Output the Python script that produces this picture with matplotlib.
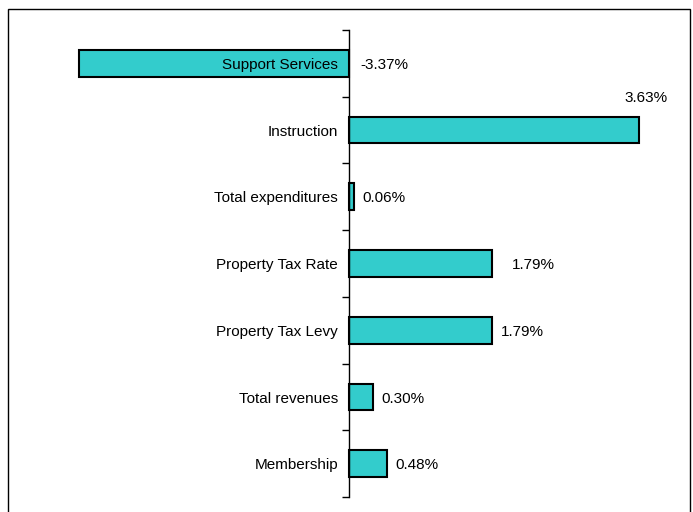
import numpy as np
import matplotlib.pyplot as plt
from matplotlib.patches import Rectangle

plt.rcParams['font.family'] = ['Liberation Sans', 'DejaVu Sans']

categories = ['Support Services', 'Instruction', 'Total expenditures',
              'Property Tax Rate', 'Property Tax Levy', 'Total revenues',
              'Membership']
changes = [-3.37, 3.63, 0.06, 1.79, 1.79, 0.30, 0.48]

W, H = 693, 512
fig = plt.figure(figsize=(W / 100, H / 100), dpi=100)

# axes placed in pixel terms: zero line at x=349, category band 30..497
px_per_unit = 80.0
left_px, right_px = 30, 680
zero_px = 349
ax = fig.add_axes([left_px / W, 1 - 497 / H, (right_px - left_px) / W, (497 - 30) / H])
ax.set_xlim(-(zero_px - left_px) / px_per_unit, (right_px - zero_px) / px_per_unit)

n = len(categories)
y = np.arange(n)
ax.barh(y, changes, height=0.4, color='#33CCCC', edgecolor='black', linewidth=1.5, zorder=2)
ax.set_ylim(n - 0.5, -0.5)

for s in ['top', 'right', 'bottom']:
    ax.spines[s].set_visible(False)
ax.spines['left'].set_position(('data', 0))
ax.spines['left'].set_linewidth(1.0)
ax.set_xticks([])
ax.set_yticks(np.arange(n + 1) - 0.5)
ax.set_yticklabels([])
ax.tick_params(axis='y', length=5, width=1, direction='out')

fs = 11
dy = -1.2
for i, (cat, v) in enumerate(zip(categories, changes)):
    ax.annotate(cat, (0, i), xytext=(-8, dy), textcoords='offset points',
                ha='right', va='center', fontsize=fs, zorder=3)
    if cat == 'Instruction':
        ax.annotate(f'{v:.2f}%', (v, i), xytext=(-11, 24 + dy), textcoords='offset points',
                    ha='left', va='center', fontsize=fs)
    elif v < 0:
        ax.annotate(f'{v:.2f}%', (0, i), xytext=(8.5, dy), textcoords='offset points',
                    ha='left', va='center', fontsize=fs)
    else:
        dx = 14 if cat == 'Property Tax Rate' else 6
        ax.annotate(f'{v:.2f}%', (v, i), xytext=(dx, dy), textcoords='offset points',
                    ha='left', va='center', fontsize=fs)

# frame around the whole chart
fig.patches.append(Rectangle((8 / W, -0.01), (690 - 8) / W, 1 - 9 / H + 0.01,
                             transform=fig.transFigure, fill=False,
                             edgecolor='black', linewidth=1.0))

fig.savefig('out.png', dpi=100)
